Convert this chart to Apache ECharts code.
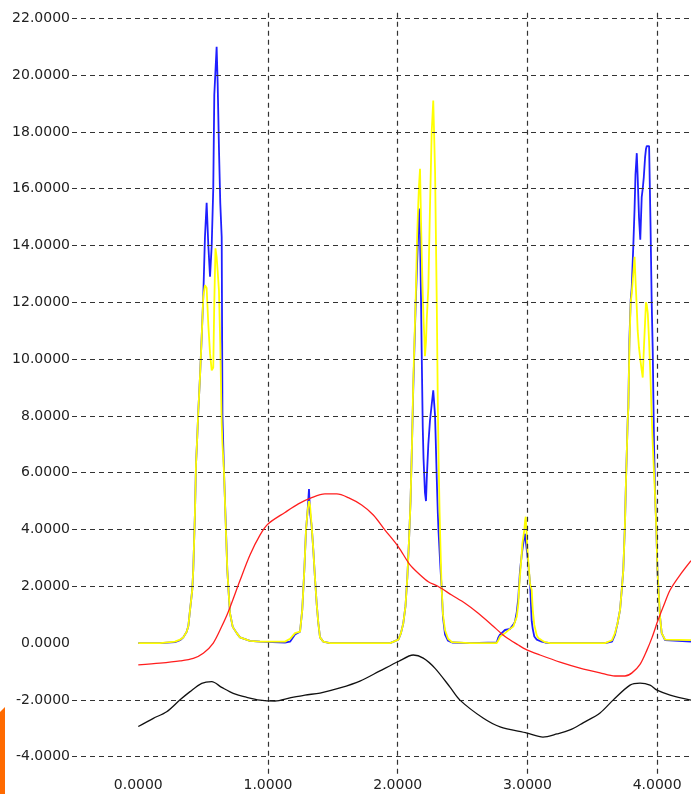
<!DOCTYPE html>
<html><head><meta charset="utf-8">
<script src="https://cdn.jsdelivr.net/npm/echarts@6/dist/echarts.min.js"></script>
<style>html,body{margin:0;padding:0;background:#fff}#c{width:691px;height:794px}</style>
</head><body><div id="c"></div>
<script>
const specX = [0.000,0.167,0.283,0.322,0.347,0.373,0.386,0.399,0.416,0.424,0.437,0.445,0.455,0.463,0.476,0.489,0.501,0.514,0.527,0.540,0.553,0.566,0.578,0.586,0.595,0.604,0.612,0.622,0.632,0.643,0.649,0.661,0.676,0.686,0.697,0.707,0.728,0.759,0.784,0.861,0.938,
1.131,1.170,1.208,1.247,1.264,1.280,1.293,1.306,1.316,1.324,1.337,1.349,1.362,1.375,1.388,1.401,1.426,1.478,1.941,
2.005,2.025,2.043,2.060,2.074,2.087,2.099,2.110,2.120,2.130,2.139,2.149,2.157,2.164,2.172,2.180,2.185,2.193,2.199,2.205,2.210,2.218,2.224,2.236,2.249,2.262,2.274,2.288,2.301,2.309,2.315,2.323,2.330,2.338,2.349,2.365,2.388,2.419,2.557,
2.763,2.776,2.789,2.827,2.866,2.891,2.904,2.918,2.930,2.935,2.943,2.956,2.961,2.976,2.982,2.987,3.002,3.020,3.033,3.041,3.053,3.072,3.084,3.110,3.136,3.174,
3.598,3.652,3.675,3.695,3.714,3.727,3.739,3.752,3.760,3.773,3.778,3.786,3.796,3.804,3.816,3.826,3.833,3.843,3.850,3.860,3.870,3.881,3.889,3.897,3.907,3.914,3.920,3.928,3.938,3.949,3.958,3.966,3.976,3.984,3.994,4.002,4.009,4.022,4.035,4.061,4.261];
const blueY = [0,0,0.03,0.1,0.2,0.4,0.6,1.17,1.87,2.6,4.6,6.3,7.3,8.2,9.4,10.8,12.2,14.3,15.5,14.0,12.9,14.0,16.0,19.3,19.3,21.0,19.7,17.4,15.5,14.3,8.0,6.0,4.0,2.6,1.75,1.05,0.57,0.35,0.2,0.08,0.05,
0.02,0.05,0.3,0.4,1.17,2.57,3.98,4.7,5.42,4.6,4.1,3.3,2.3,1.4,0.7,0.2,0.05,0,0,
0.12,0.35,0.7,1.3,2.3,3.6,5.0,7.0,9.0,10.6,12.0,13.3,14.3,15.3,14.4,12.0,10.2,7.6,6.5,5.85,5.3,5.0,5.8,7.0,7.85,8.4,8.9,8.0,5.8,4.6,3.9,3.2,2.6,2.0,0.9,0.3,0.08,0.02,0,
0.02,0.2,0.3,0.46,0.5,0.65,0.75,1.1,1.6,2.0,2.57,3.1,3.28,3.75,3.85,3.6,3.0,2.1,0.77,0.5,0.23,0.12,0.1,0.05,0.02,0,
0,0.05,0.3,0.7,1.17,1.87,2.57,4.2,5.74,7.85,8.3,10.67,12.08,12.5,13.96,15.3,16.5,17.25,16.4,15.0,14.2,15.7,16.0,16.4,17.1,17.4,17.5,17.5,17.5,14.7,12.0,10.3,7.0,5.28,3.98,2.57,1.99,0.93,0.35,0.1,0.05];
const yellowY = [0,0,0.05,0.12,0.2,0.4,0.6,1.17,1.87,2.6,4.6,6.3,7.3,8.2,9.4,10.8,12.2,12.6,12.5,11.2,10.2,9.6,9.7,12.0,13.9,13.6,13.1,12.4,10.5,7.75,7.0,6.0,3.9,2.6,1.75,1.05,0.57,0.35,0.2,0.08,0.05,
0.05,0.15,0.35,0.4,1.17,2.57,3.98,4.7,5.0,4.85,4.1,3.3,2.3,1.4,0.7,0.2,0.05,0,0,
0.12,0.35,0.7,1.3,2.3,3.6,5.0,7.0,9.2,10.8,12.2,14.2,15.3,16.1,16.7,14.8,13.7,12.3,11.4,10.8,10.1,10.6,11.4,12.5,15.4,18.0,19.1,16.6,12.0,8.5,6.5,4.6,3.3,2.0,1.0,0.45,0.15,0.03,0,
0,0.1,0.23,0.35,0.5,0.58,0.75,0.93,1.4,1.87,2.4,3.16,3.5,3.98,4.3,4.45,3.16,2.1,1.87,1.17,0.64,0.27,0.18,0.1,0.03,0,
0,0.1,0.35,0.7,1.17,1.87,2.57,4.2,5.74,7.85,8.3,10.4,12.0,12.3,13.0,13.6,12.8,11.8,11.0,10.4,10.0,9.6,9.35,10.3,11.3,12.0,11.9,11.6,10.6,9.3,8.0,7.0,6.0,5.2,3.98,2.57,1.99,0.93,0.35,0.12,0.1];
const redX = [0.000,0.167,0.322,0.424,0.501,0.578,0.643,0.694,0.784,0.861,0.938,1.002,1.131,1.234,1.337,1.439,1.530,1.619,1.722,1.812,1.902,2.005,2.095,2.159,2.236,2.313,2.416,2.519,2.621,2.725,2.827,2.930,2.995,3.097,3.251,3.405,3.560,3.675,3.752,3.806,3.868,3.922,3.961,4.007,4.053,4.100,4.177,4.261];
const redY = [-0.77,-0.71,-0.63,-0.54,-0.36,0.00,0.58,1.10,2.2,3.1,3.8,4.2,4.6,4.9,5.12,5.25,5.25,5.12,4.86,4.51,3.98,3.39,2.75,2.46,2.16,1.99,1.69,1.40,1.05,0.64,0.23,-0.07,-0.24,-0.42,-0.67,-0.88,-1.05,-1.16,-1.16,-1.05,-0.75,-0.24,0.2,0.81,1.35,1.87,2.4,2.9];
const blackX = [0.000,0.116,0.219,0.322,0.399,0.489,0.566,0.643,0.732,0.836,0.938,1.054,1.170,1.285,1.401,1.555,1.709,1.863,2.005,2.120,2.197,2.288,2.403,2.480,2.658,2.789,2.997,3.120,3.228,3.328,3.429,3.560,3.660,3.791,3.868,3.945,3.999,4.100,4.261];
const blackY = [-2.94,-2.65,-2.42,-2.00,-1.71,-1.42,-1.36,-1.56,-1.77,-1.91,-2.01,-2.04,-1.93,-1.83,-1.76,-1.58,-1.34,-0.98,-0.65,-0.42,-0.53,-0.89,-1.55,-2.01,-2.64,-2.95,-3.17,-3.31,-3.20,-3.06,-2.81,-2.46,-2.01,-1.48,-1.41,-1.48,-1.66,-1.83,-2.01];
const xTicks = [0,1,2,3,4];
const yTicks = [-4,-2,0,2,4,6,8,10,12,14,16,18,20,22];
const xGridLines = [1,2,3,4];
const yGridLines = [-4,-2,2,4,6,8,10,12,14,16,18,20,22];

const zip = (xs, ys) => xs.map((x, i) => [x, ys[i]]);
const near = (v, list) => list.some(t => Math.abs(v - t) < 1e-6);
const font = {fontFamily: 'DejaVu Sans', fontSize: 14, color: '#222'};

const chart = echarts.init(document.getElementById('c'), null, {renderer: 'canvas'});
chart.setOption({
  animation: false,
  backgroundColor: '#fff',
  grid: {left: 72, right: 0, top: 12.6, bottom: 20.3, containLabel: false},
  xAxis: {
    type: 'value', min: -0.511, max: 4.261, splitNumber: 5,
    axisLine: {show: false}, axisTick: {show: false}, splitLine: {show: false},
    axisLabel: Object.assign({margin: 5, showMinLabel: false, showMaxLabel: false,
      formatter: v => near(v, xTicks) ? v.toFixed(4) : ''}, font)
  },
  yAxis: {
    type: 'value', min: -4.6, max: 22.2, splitNumber: 13,
    axisLine: {show: false}, axisTick: {show: false}, splitLine: {show: false},
    axisLabel: Object.assign({margin: 2, showMinLabel: false, showMaxLabel: false,
      formatter: v => near(v, yTicks) ? v.toFixed(4) : ''}, font)
  },
  graphic: [{
    type: 'polygon', shape: {points: [[0, 712], [5, 707], [5, 794], [0, 794]]},
    style: {fill: '#ff6a00'}, silent: true
  }],
  series: [
    {type: 'line', z: 1, data: [[0, 0]], showSymbol: false, symbol: 'none', lineStyle: {width: 0, opacity: 0},
      markLine: {silent: true, symbol: ['none', 'none'], label: {show: false}, animation: false,
        lineStyle: {type: [5, 4], color: '#333', width: 1.2},
        emphasis: {disabled: true},
        data: xGridLines.map(v => ({xAxis: v})).concat(yGridLines.map(v => ({yAxis: v})))}},
    {name: 'blue', type: 'line', z: 3, data: zip(specX, blueY), showSymbol: false, symbol: 'none',
      lineStyle: {color: '#1f1fff', width: 1.8}},
    {name: 'yellow', type: 'line', z: 4, data: zip(specX, yellowY), showSymbol: false, symbol: 'none',
      lineStyle: {color: '#ffff00', width: 1.8}},
    {name: 'red', type: 'line', z: 5, data: zip(redX, redY), showSymbol: false, symbol: 'none', smooth: 0.3,
      lineStyle: {color: '#ff1e1e', width: 1.3}},
    {name: 'black', type: 'line', z: 5, data: zip(blackX, blackY), showSymbol: false, symbol: 'none', smooth: 0.3,
      lineStyle: {color: '#111', width: 1.3}}
  ]
});
</script></body></html>
